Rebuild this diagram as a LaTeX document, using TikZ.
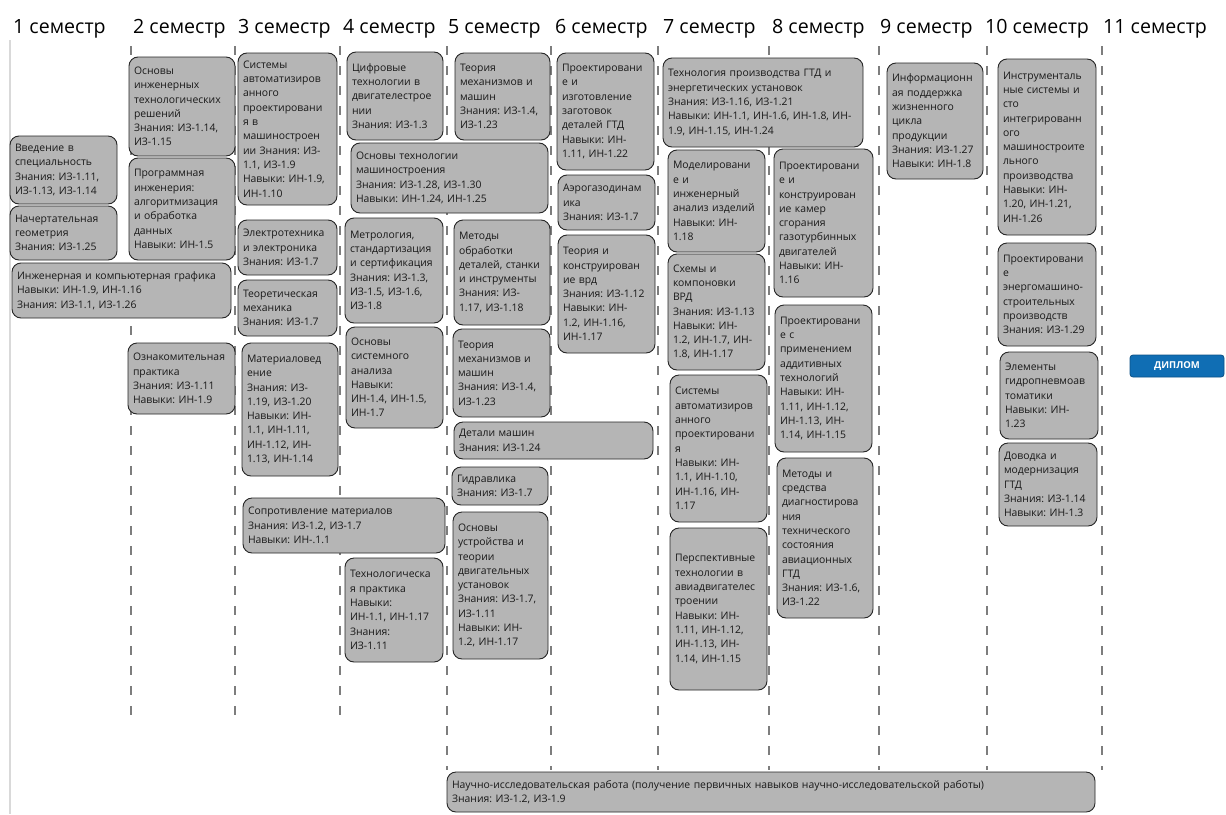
\documentclass[tikz,border=0pt]{standalone}
\usepackage{fontspec}
\setmainfont{Open Sans}
\frenchspacing
\definecolor{boxgray}{RGB}{181,181,181}
\definecolor{sepgray}{RGB}{125,125,125}
\definecolor{diplblue}{RGB}{16,110,180}
\newcommand\boxfont{\fontsize{10.4}{14.3}\selectfont\frenchspacing}
\newcommand\semfont{\fontsize{19.6}{23}\selectfont}
\newcommand\nirfont{\fontsize{10.4}{14}\selectfont\frenchspacing}
\tikzset{
  box/.style={draw=black!85, fill=boxgray, rounded corners=9pt, line width=0.9pt,
    inner xsep=5pt, inner ysep=1pt, align=left, font=\boxfont, text=black!90},
  sem/.style={anchor=west, font=\semfont, inner sep=0pt, text=black},
  sepline/.style={draw=sepgray, line width=2.6pt, dash pattern=on 9pt off 11pt},
  frameline/.style={draw=black!15, line width=1.2pt},
  diplbox/.style={fill=diplblue, draw=diplblue!75!black, rounded corners=3pt, line width=0.8pt,
    text=white, font=\fontsize{9.5}{11}\selectfont\bfseries, inner sep=0pt},
}
\newcommand\bx[6]{%
  \pgfmathsetmacro\bxw{#4-#2}%
  \pgfmathsetmacro\bxh{#5-#3}%
  \pgfmathsetmacro\bxt{#4-#2-10}%
  \pgfmathsetmacro\bxcx{(#2+#4)/2}%
  \pgfmathsetmacro\bxcy{-(#3+#5)/2}%
  \node[box, minimum width=\bxw pt, minimum height=\bxh pt, text width=\bxt pt] (#1) at (\bxcx pt,\bxcy pt) {#6};}
\begin{document}
\begin{tikzpicture}[x=1pt,y=1pt]
\path[use as bounding box, fill=white] (0,0) rectangle (1226,-814);
% frame line
\draw[frameline] (10,-40) -- (10,-814);
% semester headers
\node[sem] (s1) at (13,-29) {1 семестр};
\node[sem] (s2) at (133,-29) {2 семестр};
\node[sem] (s3) at (238,-29) {3 семестр};
\node[sem] (s4) at (343,-29) {4 семестр};
\node[sem] (s5) at (448,-29) {5 семестр};
\node[sem] (s6) at (555,-29) {6 семестр};
\node[sem] (s7) at (663,-29) {7 семестр};
\node[sem] (s8) at (772,-29) {8 семестр};
\node[sem] (s9) at (880,-29) {9 семестр};
\node[sem] (s10) at (985,-29) {10 семестр};
\node[sem] (s11) at (1103,-29) {11 семестр};
% dashed separators
\foreach \xx in {131,235,340} {\draw[sepline] (\xx,-46) -- (\xx,-717);}
\foreach \xx in {447,551,658,769,879,987,1102} {\draw[sepline] (\xx,-46) -- (\xx,-770);}
% column 1
\bx{intro}{10}{136}{117}{204}{Введение в\\специальность\\Знания: ИЗ-1.11,\\ИЗ-1.13, ИЗ-1.14}
\bx{nach}{10}{206}{117}{260}{Начертательная\\геометрия\\Знания: ИЗ-1.25}
\bx{graf}{12}{263}{231}{318}{Инженерная и компьютерная графика\\Навыки: ИН-1.9, ИН-1.16\\Знания: ИЗ-1.1, ИЗ-1.26}
% column 2
\bx{osn}{129}{57}{235}{156}{Основы\\инженерных\\технологических\\решений\\Знания: ИЗ-1.14,\\ИЗ-1.15}
\bx{prog}{129}{158}{235}{260}{Программная\\инженерия:\\алгоритмизация\\и обработка\\данных\\Навыки: ИН-1.5}
\bx{ozn}{128}{343}{235}{414}{Ознакомительная\\практика\\Знания: ИЗ-1.11\\Навыки: ИН-1.9}
% column 3
\bx{sapr}{238}{53}{337}{205}{Системы\\автоматизиров\\анного\\проектировани\\я в\\машиностроен\\ии Знания: ИЗ-\\1.1, ИЗ-1.9\\Навыки: ИН-1.9,\\ИН-1.10}
\bx{elec}{238}{220}{337}{275}{Электротехника\\и электроника\\Знания: ИЗ-1.7}
\bx{teor}{238}{280}{337}{336}{Теоретическая\\механика\\Знания: ИЗ-1.7}
\bx{mat}{242}{343}{338}{476}{Материаловед\\ение\\Знания: ИЗ-\\1.19, ИЗ-1.20\\Навыки: ИН-\\1.1, ИН-1.11,\\ИН-1.12, ИН-\\1.13, ИН-1.14}
\bx{sopr}{243}{498}{445}{553}{Сопротивление материалов\\Знания: ИЗ-1.2, ИЗ-1.7\\Навыки: ИН-.1.1}
% column 4
\bx{cifr}{347}{52}{443}{140}{Цифровые\\технологии в\\двигателестрое\\нии\\Знания: ИЗ-1.3}
\bx{otm}{351}{143}{548}{213}{Основы технологии\\машиностроения\\Знания: ИЗ-1.28, ИЗ-1.30\\Навыки: ИН-1.24, ИН-1.25}
\bx{metr}{345}{218}{443}{323}{Метрология,\\стандартизация\\и сертификация\\Знания: ИЗ-1.3,\\ИЗ-1.5, ИЗ-1.6,\\ИЗ-1.8}
\bx{sist}{346}{327}{443}{428}{Основы\\системного\\анализа\\Навыки:\\ИН-1.4, ИН-1.5,\\ИН-1.7}
\bx{tprak}{345}{558}{443}{662}{Технологическа\\я практика\\Навыки:\\ИН-1.1, ИН-1.17\\Знания:\\ИЗ-1.11}
% column 5
\bx{tmmA}{455}{53}{550}{140}{Теория\\механизмов и\\машин\\Знания: ИЗ-1.4,\\ИЗ-1.23}
\bx{metod}{454}{220}{550}{325}{Методы\\обработки\\деталей, станки\\и инструменты\\Знания: ИЗ-\\1.17, ИЗ-1.18}
\bx{tmmB}{453}{329}{550}{417}{Теория\\механизмов и\\машин\\Знания: ИЗ-1.4,\\ИЗ-1.23}
\bx{det}{454}{422}{653}{459}{Детали машин\\Знания: ИЗ-1.24}
\bx{gidr}{452}{467}{548}{505}{Гидравлика\\Знания: ИЗ-1.7}
\bx{dvu}{453}{512}{548}{659}{Основы\\устройства и\\теории\\двигательных\\установок\\Знания: ИЗ-1.7,\\ИЗ-1.11\\Навыки: ИН-\\1.2, ИН-1.17}
% column 6
\bx{proizg}{557}{53}{654}{170}{Проектировани\\е и\\изготовление\\заготовок\\деталей ГТД\\Навыки: ИН-\\1.11, ИН-1.22}
\bx{aero}{558}{175}{655}{230}{Аэрогазодинам\\ика\\Знания: ИЗ-1.7}
\bx{twrd}{558}{235}{655}{353}{Теория и\\конструирован\\ие врд\\Знания: ИЗ-1.12\\Навыки: ИН-\\1.2, ИН-1.16,\\ИН-1.17}
% column 7
\bx{tgtd}{663}{58}{863}{147}{Технология производства ГТД и\\энергетических установок\\Знания: ИЗ-1.16, ИЗ-1.21\\Навыки: ИН-1.1, ИН-1.6, ИН-1.8, ИН-\\1.9, ИН-1.15, ИН-1.24}
\bx{model}{668}{150}{765}{252}{Моделировани\\е и\\инженерный\\анализ изделий\\Навыки: ИН-\\1.18}
\bx{shem}{668}{254}{765}{370}{Схемы и\\компоновки\\ВРД\\Знания: ИЗ-1.13\\Навыки: ИН-\\1.2, ИН-1.7, ИН-\\1.8, ИН-1.17}
\bx{saprB}{670}{375}{767}{522}{Системы\\автоматизиров\\анного\\проектировани\\я\\Навыки: ИН-\\1.1, ИН-1.10,\\ИН-1.16, ИН-\\1.17}
\bx{persp}{670}{528}{767}{690}{Перспективные\\технологии в\\авиадвигателес\\троении\\Навыки: ИН-\\1.11, ИН-1.12,\\ИН-1.13, ИН-\\1.14, ИН-1.15}
% column 8
\bx{kamer}{774}{149}{873}{297}{Проектировани\\е и\\конструирован\\ие камер\\сгорания\\газотурбинных\\двигателей\\Навыки: ИН-\\1.16}
\bx{addit}{775}{305}{872}{452}{Проектировани\\е с\\применением\\аддитивных\\технологий\\Навыки: ИН-\\1.11, ИН-1.12,\\ИН-1.13, ИН-\\1.14, ИН-1.15}
\bx{diag}{777}{458}{873}{618}{Методы и\\средства\\диагностирова\\ния\\технического\\состояния\\авиационных\\ГТД\\Знания: ИЗ-1.6,\\ИЗ-1.22}
% column 9
\bx{info}{887}{63}{983}{179}{Информационн\\ая поддержка\\жизненного\\цикла\\продукции\\Знания: ИЗ-1.27\\Навыки: ИН-1.8}
% column 10
\bx{instr}{998}{59}{1096}{235}{Инструменталь\\ные системы и\\сто\\интегрированн\\ого\\машиностроите\\льного\\производства\\Навыки: ИН-\\1.20, ИН-1.21,\\ИН-1.26}
\bx{energ}{998}{243}{1096}{346}{Проектировани\\е\\энергомашино-\\строительных\\производств\\Знания: ИЗ-1.29}
\bx{gidro}{1000}{352}{1098}{439}{Элементы\\гидропневмоав\\томатики\\Навыки: ИН-\\1.23}
\bx{dovod}{999}{443}{1097}{526}{Доводка и\\модернизация\\ГТД\\Знания: ИЗ-1.14\\Навыки: ИН-1.3}
% diploma
\node[diplbox, minimum width=94pt, minimum height=22pt] (dipl) at (1177,-366) {ДИПЛОМ};
% research work
\node[box, font=\nirfont, minimum width=648pt, minimum height=40pt, text width=638pt] (nir) at (771,-792)
  {Научно-исследовательская работа (получение первичных навыков научно-исследовательской работы)\\Знания: ИЗ-1.2, ИЗ-1.9};
\end{tikzpicture}
\end{document}
